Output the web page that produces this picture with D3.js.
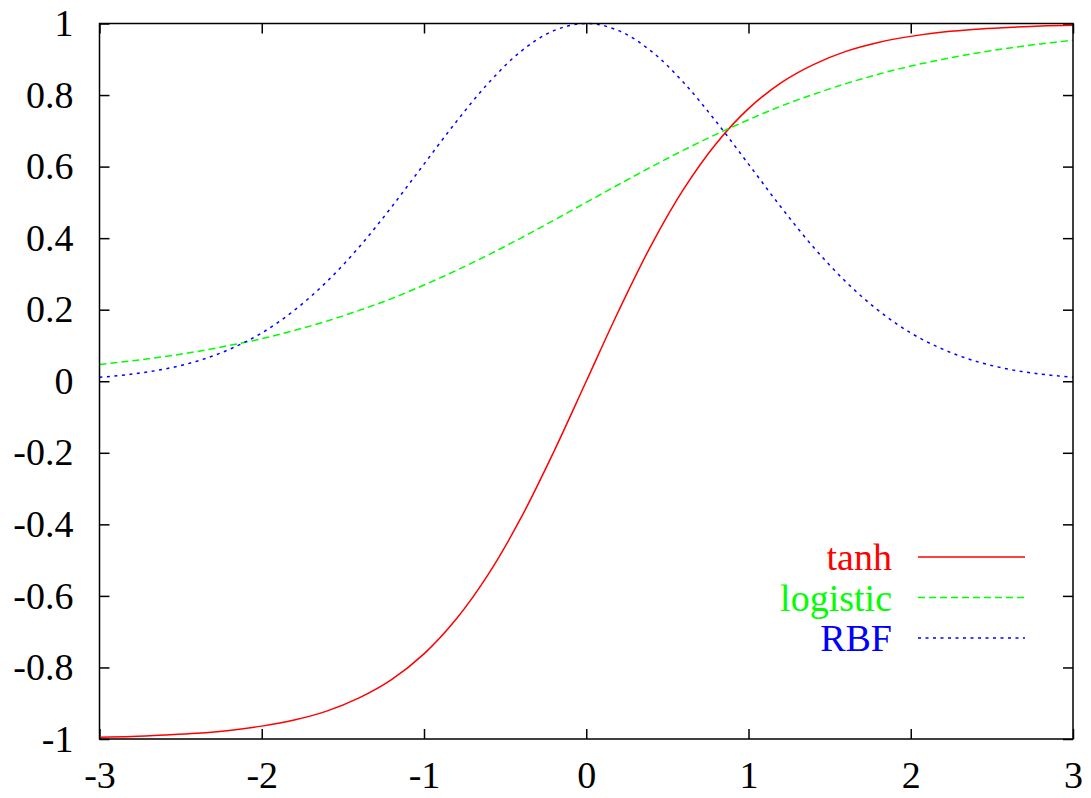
<!DOCTYPE html>
<html>
<head>
<meta charset="utf-8">
<script src="https://cdn.jsdelivr.net/npm/d3@7"></script>
<style>
  body { margin: 0; background: #fff; }
</style>
</head>
<body>
<svg id="chart"></svg>
<script>
// Chart size
const width = 1091;
const height = 798;
const margin = { top: 23.5, right: 18, bottom: 59, left: 99.5 };
const fontFamily = "Liberation Serif";

// Sample points along x
const xs = [-3, -2.8, -2.6, -2.4, -2.2, -2, -1.8, -1.6, -1.4, -1.2, -1, -0.8, -0.6, -0.4, -0.2, 0,
            0.2, 0.4, 0.6, 0.8, 1, 1.2, 1.4, 1.6, 1.8, 2, 2.2, 2.4, 2.6, 2.8, 3];

// Series values
const tanhVals = [-0.995, -0.993, -0.989, -0.984, -0.976, -0.964, -0.947, -0.922, -0.885, -0.834, -0.762,
                  -0.664, -0.537, -0.380, -0.197, 0, 0.197, 0.380, 0.537, 0.664, 0.762, 0.834, 0.885,
                  0.922, 0.947, 0.964, 0.976, 0.984, 0.989, 0.993, 0.995];
const logisticVals = [0.047, 0.057, 0.069, 0.083, 0.100, 0.119, 0.142, 0.168, 0.198, 0.231, 0.269,
                      0.310, 0.354, 0.401, 0.450, 0.500, 0.550, 0.599, 0.646, 0.690, 0.731, 0.769,
                      0.802, 0.832, 0.858, 0.881, 0.900, 0.917, 0.931, 0.943, 0.953];
const rbfVals = [0.011, 0.020, 0.034, 0.056, 0.089, 0.135, 0.198, 0.278, 0.375, 0.487, 0.607, 0.726,
                 0.835, 0.923, 0.980, 1.000, 0.980, 0.923, 0.835, 0.726, 0.607, 0.487, 0.375, 0.278,
                 0.198, 0.135, 0.089, 0.056, 0.034, 0.020, 0.011];

// Tick labels
const xTicks = [-3, -2, -1, 0, 1, 2, 3];
const yTicks = [-1, -0.8, -0.6, -0.4, -0.2, 0, 0.2, 0.4, 0.6, 0.8, 1];

const seriesNames = ["tanh", "logistic", "RBF"];
const seriesColors = ["#ff0000", "#00ff00", "#0000ff"];
const seriesDash = [null, "7,4", "3,4.5"];
const seriesVals = [tanhVals, logisticVals, rbfVals];

const svg = d3.select("#chart")
    .attr("width", width)
    .attr("height", height);

const x = d3.scaleLinear().domain([-3, 3]).range([margin.left, width - margin.right]);
const y = d3.scaleLinear().domain([-1, 1]).range([height - margin.bottom, margin.top]);

const tickLen = 10;

// Axes (ticks point inward, mirrored on all sides)
svg.append("g")
    .attr("transform", `translate(0,${y(-1)})`)
    .call(d3.axisBottom(x).tickValues(xTicks).tickSize(-tickLen).tickPadding(22)
        .tickFormat(d => String(d)))
    .call(g => g.select(".domain").remove());

svg.append("g")
    .attr("transform", `translate(0,${y(1)})`)
    .call(d3.axisTop(x).tickValues(xTicks).tickSize(-tickLen).tickFormat(""))
    .call(g => g.select(".domain").remove());

svg.append("g")
    .attr("transform", `translate(${x(-3)},0)`)
    .call(d3.axisLeft(y).tickValues(yTicks).tickSize(-tickLen).tickPadding(26)
        .tickFormat(d => String(Math.round(d * 10) / 10)))
    .call(g => g.select(".domain").remove());

svg.append("g")
    .attr("transform", `translate(${x(3)},0)`)
    .call(d3.axisRight(y).tickValues(yTicks).tickSize(-tickLen).tickFormat(""))
    .call(g => g.select(".domain").remove());

svg.selectAll("g").attr("font-family", fontFamily).attr("font-size", 38);
svg.selectAll(".tick line").attr("stroke", "#000").attr("stroke-width", 1.5);
svg.selectAll(".tick text")
    .attr("fill", "#000")
    .attr("font-family", fontFamily)
    .attr("font-size", 38);

// Curves
const line = d3.line()
    .x((d, i) => x(xs[i]))
    .y(d => y(d))
    .curve(d3.curveCatmullRom);

seriesVals.forEach((vals, i) => {
    svg.append("path")
        .datum(vals)
        .attr("fill", "none")
        .attr("stroke", seriesColors[i])
        .attr("stroke-width", 1.5)
        .attr("stroke-dasharray", seriesDash[i])
        .attr("d", line);
});

// Frame
svg.append("rect")
    .attr("x", x(-3))
    .attr("y", y(1))
    .attr("width", x(3) - x(-3))
    .attr("height", y(-1) - y(1))
    .attr("fill", "none")
    .attr("stroke", "#000")
    .attr("stroke-width", 1.5);

// Legend
const legend = svg.append("g");
seriesNames.forEach((name, i) => {
    const ly = 557 + i * 40.5;
    legend.append("text")
        .attr("x", 892)
        .attr("y", ly)
        .attr("dy", "0.35em")
        .attr("text-anchor", "end")
        .attr("fill", seriesColors[i])
        .attr("font-family", fontFamily)
        .attr("font-size", 38)
        .text(name);
    legend.append("line")
        .attr("x1", 918)
        .attr("x2", 1025)
        .attr("y1", ly)
        .attr("y2", ly)
        .attr("stroke", seriesColors[i])
        .attr("stroke-width", 1.5)
        .attr("stroke-dasharray", seriesDash[i]);
});
</script>
</body>
</html>
